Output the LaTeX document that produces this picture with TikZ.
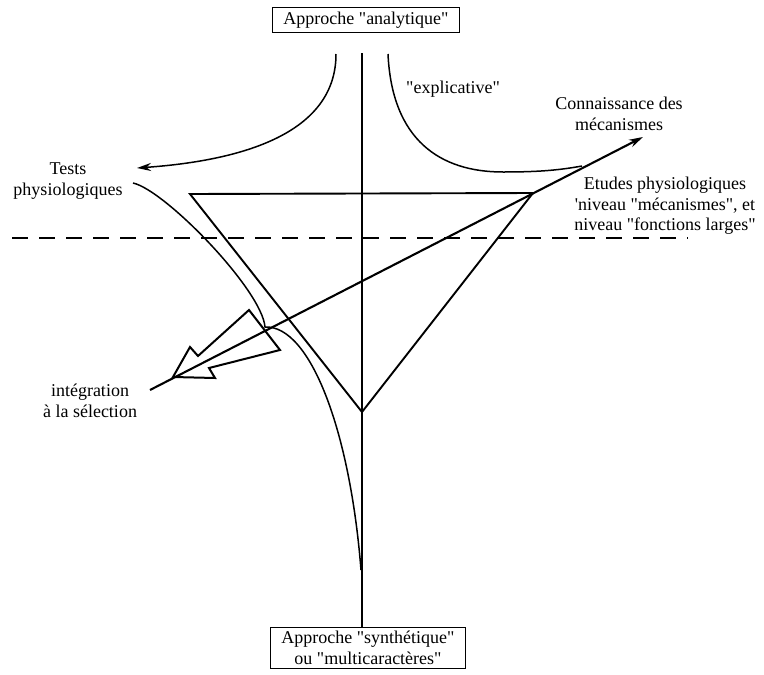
\documentclass[tikz,border=0pt]{standalone}
\usepackage{fontspec}
\setmainfont{Liberation Serif}[Ligatures=TeXOff]
\usetikzlibrary{arrows.meta}

\begin{document}
\begin{tikzpicture}[
    x=1pt, y=-1pt,
    txt/.style={align=center, font=\fontsize{18}{20.5}\selectfont, inner sep=0pt},
    approach/.style={txt, draw=black, thick, inner xsep=11pt, inner ysep=4pt},
    curve/.style={line width=1.5pt},
    thrust/.style={line width=2.1pt, -{Stealth[length=14pt, width=8pt]}},
    triangle/.style={line width=1.9pt, line join=miter},
    dashline/.style={line width=1.6pt, dash pattern=on 16pt off 11pt},
    bolt/.style={line width=2pt, line join=miter}
]
    \useasboundingbox (0,0) rectangle (764,675);
    % approaches
    \node[approach] (analyt) at (366,20) {Approche "analytique"};
    \node[approach] (synth) at (368,648) {Approche "synthétique"\\ou "multicaractères"};
    % labels
    \node[txt] (expl) at (453,89) {"explicative"};
    \node[txt] (conn) at (619,114) {Connaissance des\\mécanismes};
    \node[txt] (etudes) at (665,206) {Etudes physiologiques\\'niveau "mécanismes", et\\niveau "fonctions larges"};
    \node[txt] (tests) at (68,181) {Tests\\physiologiques};
    \node[txt] (integ) at (90,401) {intégration\\à la sélection};
    % points
    \coordinate (vtop) at (362,53);
    \coordinate (ltop) at (336,54);
    \coordinate (rtop) at (388,54);
    \coordinate (ltip) at (137,168);
    \coordinate (rlow) at (503,172);
    \coordinate (cusp) at (265,327);
    \coordinate (merge) at (361,570);
    \coordinate (lowend) at (150,390);
    \coordinate (knowtip) at (643,137);
    % axis and dashed level
    \draw[curve] (vtop) -- (vtop |- synth.north);
    \draw[dashline] (12,238) -- (688,238);
    % analytic branches
    \draw[curve, -{Stealth[length=14pt, width=8pt]}] (ltop) .. controls (336,130) and (250,160) .. (ltip);
    \draw[curve] (rtop) .. controls (392,140) and (440,172) .. (rlow) .. controls (540,172) and (560,170) .. (582,166);
    % tests curve
    \draw[curve] (133,183) .. controls (165,190) and (262,290) .. (cusp) .. controls (310,325) and (350,430) .. (merge);
    % triangle
    \draw[triangle] (190,194) -- (533,193) -- (362,412) -- cycle;
    % main arrow
    \draw[thrust] (lowend) -- (knowtip);
    % block arrow
    \draw[bolt] (173,377) -- (215,378) -- (209,368) -- (280,350) -- (249,310) -- (198,356) -- (190,347) -- cycle;
\end{tikzpicture}
\end{document}
